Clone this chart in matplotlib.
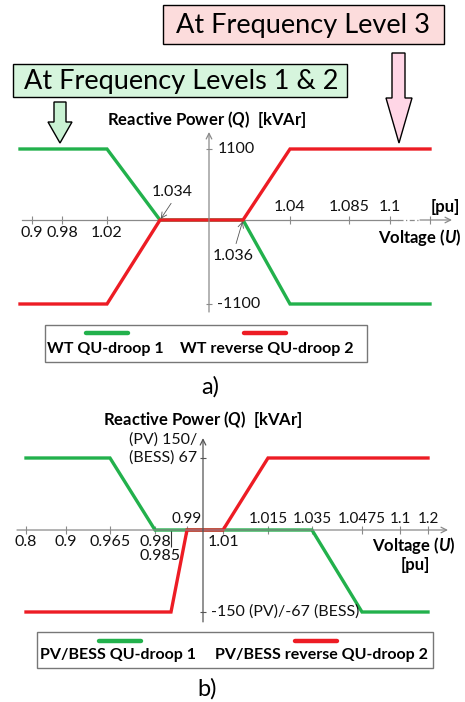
import numpy as np
import matplotlib
matplotlib.use('Agg')
import matplotlib.pyplot as plt
from matplotlib.transforms import blended_transform_factory
from matplotlib.patches import Rectangle, Polygon

plt.rcParams['font.family'] = ['Lato', 'DejaVu Sans']
plt.rcParams['mathtext.fontset'] = 'custom'
plt.rcParams['mathtext.it'] = 'Lato:italic:bold'
plt.rcParams['mathtext.rm'] = 'Lato:bold'

GREEN = '#22b14c'
RED = '#ed1c24'
GREY = '#8a8a8a'
INK = '#111111'

# a) wind turbine curves
volt_a = [0.8, 1.02, 1.034, 1.036, 1.04, 1.2]
q_a_green = [1100, 1100, 0, 0, -1100, -1100]
q_a_red = [-1100, -1100, 0, 0, 1100, 1100]
ticks_a_below = [0.9, 0.98, 1.02]
ticks_a_above = [1.04, 1.085, 1.1]
q_a_level = 1100

# b) PV / BESS curves
volt_b_green = [0.8, 0.965, 0.98, 1.035, 1.0475, 1.2]
q_b_green = [150, 150, 0, 0, -150, -150]
volt_b_red = [0.8, 0.985, 0.99, 1.01, 1.015, 1.2]
q_b_red = [-150, -150, 0, 0, 150, 150]
ticks_b_below = [0.8, 0.9, 0.965, 0.98, 1.01]
ticks_b_above = [0.99, 1.015, 1.035, 1.0475, 1.1, 1.2]
q_b_level = 150

# the original axes are schematic, not linear: each voltage has its own spot
knots_a_u = [0.7, 0.8, 0.9, 0.98, 1.02, 1.034, 1.035, 1.036, 1.04, 1.085, 1.1, 1.2, 1.3]
knots_a_px = [0, 20, 32, 62, 107, 160, 209, 243, 290, 349, 390, 430, 465]
knots_a_q = [-1500, -1100, 0, 1100, 1500]
knots_a_py = [320, 304, 220, 149, 120]

knots_b_u = [0.7, 0.8, 0.9, 0.965, 0.98, 0.985, 0.99, 1.0, 1.01, 1.015, 1.035, 1.0475, 1.1, 1.2, 1.3]
knots_b_px = [0, 26, 66, 110, 155, 171, 187, 203, 223, 268, 312, 362, 400, 428, 465]
knots_b_q = [-250, -150, 0, 150, 250]
knots_b_py = [632, 612, 530, 458, 430]

W, H = 465, 702
fig = plt.figure(figsize=(W / 100, H / 100), dpi=100)


def schematic_axes(ku, kpx, kq, kpy):
    top, bottom = kpy[-1], kpy[0]
    ax = fig.add_axes([0, 1 - bottom / H, 1, (bottom - top) / H])
    ax.set_facecolor('none')
    ax.set_xscale('function', functions=(lambda u: np.interp(u, ku, kpx),
                                         lambda p: np.interp(p, kpx, ku)))
    ax.set_yscale('function', functions=(lambda q: -np.interp(q, kq, kpy),
                                         lambda f: np.interp(-f, kpy[::-1], kq[::-1])))
    ax.set_xlim(ku[0], ku[-1])
    ax.set_ylim(kq[0], kq[-1])
    ax.axis('off')
    return ax


def tick_labels(ax, vals, dy, size=11.5):
    for v in vals:
        ax.annotate(f'{v:g}', (v, 0), xytext=(0, dy), textcoords='offset points',
                    ha='center', va='center', fontsize=size, color=INK)


deco = fig.add_axes([0, 0, 1, 1], zorder=-1)
deco.set_xlim(0, W)
deco.set_ylim(H, 0)
deco.axis('off')

# ---------- panel a ----------
ax = schematic_axes(knots_a_u, knots_a_px, knots_a_q, knots_a_py)
xa = blended_transform_factory(ax.transAxes, ax.transData)
ax.plot([22 / W, 398 / W], [0, 0], color=GREY, lw=0.9, transform=xa)
ax.plot([398 / W, 420 / W], [0, 0], color=GREY, lw=0.9, ls=(0, (4, 2, 1, 2)), transform=xa)
ax.annotate('', xy=(452 / W, 0), xytext=(420 / W, 0), xycoords=('axes fraction', 'data'),
            arrowprops=dict(arrowstyle='->', color=GREY, lw=0.9, shrinkA=0, shrinkB=0))
ax.annotate('', xy=(1.035, 0.94), xytext=(1.035, 0.04), xycoords=('data', 'axes fraction'),
            arrowprops=dict(arrowstyle='->', color=GREY, lw=0.9, shrinkA=0, shrinkB=0))
ax.plot(ticks_a_below + ticks_a_above + [1.2], [0] * 7, ls='none', marker='|',
        ms=6, mew=0.8, color=GREY)
ax.plot([1.035, 1.035], [q_a_level, -q_a_level], ls='none', marker='_', ms=5, mew=0.8, color=GREY)
ax.plot(volt_a, q_a_green, color=GREEN, lw=2.4, solid_joinstyle='miter')
ax.plot(volt_a, q_a_red, color=RED, lw=2.4, solid_joinstyle='miter')
tick_labels(ax, ticks_a_below, -9.5)
tick_labels(ax, ticks_a_above, 9.5)
for q in (q_a_level, -q_a_level):
    ax.annotate(f'{q}', (1.035, q), xytext=(6, 0), textcoords='offset points',
                ha='left', va='center', fontsize=11.5, color=INK)
ax.annotate('', xy=(1.034, 0), xytext=(8, 12), textcoords='offset points',
            arrowprops=dict(arrowstyle='->', color='#555555', lw=0.6, shrinkA=0, shrinkB=1))
ax.annotate('1.034', (1.034, 0), xytext=(9, 20), textcoords='offset points',
            ha='center', va='center', fontsize=11.5, color=INK)
ax.annotate('', xy=(1.036, 0), xytext=(-5, -17), textcoords='offset points',
            arrowprops=dict(arrowstyle='->', color='#555555', lw=0.6, shrinkA=0, shrinkB=1))
ax.annotate('1.036', (1.036, 0), xytext=(-7, -26), textcoords='offset points',
            ha='center', va='center', fontsize=11.5, color=INK)

deco.text(207, 119, 'Reactive Power ($Q$)  [kVAr]', ha='center', va='center',
          fontsize=12, fontweight='bold')
deco.text(445, 207, '[pu]', ha='center', va='center', fontsize=12, fontweight='bold')
deco.text(462, 238, 'Voltage ($U$)', ha='right', va='center', fontsize=12, fontweight='bold')

# legend a
deco.add_patch(Rectangle((45, 325), 322, 37, fill=False, ec='#777777', lw=1))
deco.plot([86, 128], [333, 333], color=GREEN, lw=3.2, solid_capstyle='round')
deco.plot([244, 286], [333, 333], color=RED, lw=3.2, solid_capstyle='round')
deco.text(47, 349, 'WT QU-droop 1', va='center', fontsize=11.5, fontweight='bold')
deco.text(180, 349, 'WT reverse QU-droop 2', va='center', fontsize=11.5, fontweight='bold')
deco.text(210, 387, 'a)', ha='center', va='center', fontsize=17)

# headline boxes and arrows
deco.add_patch(Rectangle((163, 5), 281, 39, fc='#fcdcdc', ec='black', lw=1))
deco.text(303, 25, 'At Frequency Level 3', ha='center', va='center', fontsize=19.5)
deco.add_patch(Rectangle((13, 64), 334, 33, fc='#d6f5dd', ec='black', lw=1))
deco.text(181, 81, 'At Frequency Levels 1 & 2', ha='center', va='center', fontsize=19.5)
deco.add_patch(Polygon([(54, 102), (66, 102), (66, 122), (72, 122), (60, 143),
                        (48, 122), (54, 122)], closed=True, fc='#c9f2d3', ec='black', lw=1))
deco.add_patch(Polygon([(392, 53), (405, 53), (405, 98), (412, 98), (399, 143),
                        (386, 98), (392, 98)], closed=True, fc='#ffd6e6', ec='black', lw=1))

# ---------- panel b ----------
bx = schematic_axes(knots_b_u, knots_b_px, knots_b_q, knots_b_py)
bx.annotate('', xy=(448 / W, 0), xytext=(17 / W, 0), xycoords=('axes fraction', 'data'),
            arrowprops=dict(arrowstyle='->', color=GREY, lw=0.9, shrinkA=0, shrinkB=0))
bx.annotate('', xy=(1.0, 0.96), xytext=(1.0, 0.05), xycoords=('data', 'axes fraction'),
            arrowprops=dict(arrowstyle='->', color='#555555', lw=0.9, shrinkA=0, shrinkB=0))
bx.plot(ticks_b_below + ticks_b_above, [0] * 11, ls='none', marker='|',
        ms=6, mew=0.8, color=GREY)
bx.plot([0.985], [0], ls='none', marker=3, ms=12, mew=0.8, color='#333333')
bx.plot([1.0, 1.0], [q_b_level, -q_b_level], ls='none', marker='_', ms=5, mew=0.8, color='#555555')
bx.plot(volt_b_green, q_b_green, color=GREEN, lw=2.4, solid_joinstyle='miter')
bx.plot(volt_b_red, q_b_red, color=RED, lw=2.4, solid_joinstyle='miter')
tick_labels(bx, ticks_b_below, -9)
tick_labels(bx, ticks_b_above, 8, size=11)
bx.annotate('0.985', (0.985, 0), xytext=(-8, -19), textcoords='offset points',
            ha='center', va='center', fontsize=11.5, color=INK)
bx.annotate('(PV) 150/', (1.0, q_b_level), xytext=(-4, 13), textcoords='offset points',
            ha='right', va='center', fontsize=11.5, color=INK)
bx.annotate('(BESS) 67', (1.0, q_b_level), xytext=(-4, 0), textcoords='offset points',
            ha='right', va='center', fontsize=11.5, color=INK)
bx.annotate('-150 (PV)/-67 (BESS)', (1.0, -q_b_level), xytext=(6, 0), textcoords='offset points',
            ha='left', va='center', fontsize=11.5, color=INK)

deco.text(203, 420, 'Reactive Power ($Q$)  [kVAr]', ha='center', va='center',
          fontsize=12, fontweight='bold')
deco.text(456, 546, 'Voltage ($U$)', ha='right', va='center', fontsize=12, fontweight='bold')
deco.text(415, 565, '[pu]', ha='center', va='center', fontsize=12, fontweight='bold')

# legend b
deco.add_patch(Rectangle((37, 632), 396, 36, fill=False, ec='#777777', lw=1))
deco.plot([99, 141], [641, 641], color=GREEN, lw=3.2, solid_capstyle='round')
deco.plot([295, 337], [641, 641], color=RED, lw=3.2, solid_capstyle='round')
deco.text(40, 655, 'PV/BESS QU-droop 1', va='center', fontsize=11.5, fontweight='bold')
deco.text(215, 655, 'PV/BESS reverse QU-droop 2', va='center', fontsize=11.5, fontweight='bold')
deco.text(207, 689, 'b)', ha='center', va='center', fontsize=17)

fig.savefig('out.png', dpi=100)
